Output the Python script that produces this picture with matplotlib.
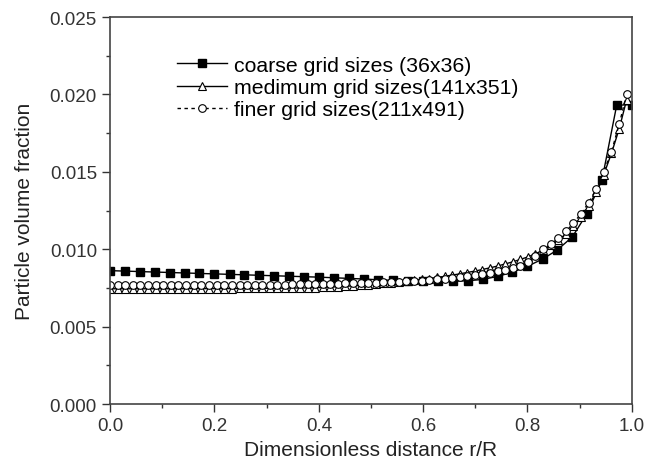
import matplotlib
matplotlib.use("Agg")
import matplotlib.pyplot as plt
from matplotlib.ticker import MultipleLocator, FormatStrFormatter

# coarse grid (36x36): 36 radial points
r_coarse = [0.000, 0.029, 0.057, 0.086, 0.114, 0.143, 0.171, 0.200, 0.229, 0.257,
            0.286, 0.314, 0.343, 0.371, 0.400, 0.429, 0.457, 0.486, 0.514, 0.543,
            0.571, 0.600, 0.629, 0.657, 0.686, 0.714, 0.743, 0.771, 0.800, 0.829,
            0.857, 0.886, 0.914, 0.943, 0.971, 1.000]
phi_coarse = [0.00862, 0.00859, 0.00856, 0.00853, 0.00850, 0.00847, 0.00844, 0.00841, 0.00838, 0.00835,
              0.00832, 0.00829, 0.00826, 0.00823, 0.00820, 0.00816, 0.00812, 0.00808, 0.00803, 0.00799,
              0.00795, 0.00793, 0.00792, 0.00793, 0.00797, 0.00805, 0.00825, 0.00852, 0.00890, 0.00937,
              0.00995, 0.01080, 0.01230, 0.01450, 0.01930, 0.01935]

# medium and finer grids, plotted at the same radial positions
r_fine = [0.000, 0.015, 0.029, 0.044, 0.058, 0.073, 0.087, 0.102, 0.117, 0.131,
          0.146, 0.160, 0.175, 0.189, 0.204, 0.218, 0.233, 0.248, 0.262, 0.277,
          0.291, 0.306, 0.320, 0.335, 0.349, 0.364, 0.379, 0.393, 0.408, 0.422,
          0.437, 0.451, 0.466, 0.481, 0.495, 0.510, 0.524, 0.539, 0.553, 0.568,
          0.582, 0.597, 0.612, 0.626, 0.641, 0.655, 0.670, 0.684, 0.699, 0.713,
          0.728, 0.743, 0.757, 0.772, 0.786, 0.801, 0.815, 0.830, 0.845, 0.859,
          0.874, 0.888, 0.903, 0.917, 0.932, 0.946, 0.961, 0.976, 0.990]

phi_medium = [0.00745, 0.00745, 0.00745, 0.00745, 0.00745, 0.00745, 0.00745, 0.00745, 0.00745, 0.00745,
              0.00746, 0.00746, 0.00746, 0.00746, 0.00746, 0.00746, 0.00746, 0.00747, 0.00747, 0.00747,
              0.00748, 0.00748, 0.00749, 0.00749, 0.00750, 0.00750, 0.00751, 0.00752, 0.00754, 0.00756,
              0.00758, 0.00761, 0.00764, 0.00767, 0.00771, 0.00775, 0.00779, 0.00783, 0.00788, 0.00793,
              0.00799, 0.00805, 0.00811, 0.00818, 0.00825, 0.00833, 0.00841, 0.00850, 0.00859, 0.00869,
              0.00880, 0.00892, 0.00905, 0.00919, 0.00934, 0.00951, 0.00970, 0.00995, 0.01025, 0.01060,
              0.01100, 0.01150, 0.01210, 0.01280, 0.01370, 0.01480, 0.01620, 0.01780, 0.01965]

phi_fine = [0.00770, 0.00770, 0.00770, 0.00770, 0.00770, 0.00770, 0.00770, 0.00770, 0.00770, 0.00770,
            0.00770, 0.00770, 0.00770, 0.00770, 0.00770, 0.00770, 0.00770, 0.00770, 0.00770, 0.00770,
            0.00771, 0.00771, 0.00772, 0.00772, 0.00773, 0.00773, 0.00774, 0.00775, 0.00776, 0.00777,
            0.00778, 0.00779, 0.00780, 0.00781, 0.00782, 0.00784, 0.00786, 0.00788, 0.00790, 0.00792,
            0.00795, 0.00798, 0.00801, 0.00805, 0.00809, 0.00814, 0.00819, 0.00825, 0.00832, 0.00840,
            0.00848, 0.00857, 0.00867, 0.00878, 0.00893, 0.00915, 0.00955, 0.01000, 0.01035, 0.01070,
            0.01115, 0.01170, 0.01230, 0.01300, 0.01390, 0.01500, 0.01630, 0.01810, 0.02000]

labels = ["coarse grid sizes (36x36)",
          "medimum grid sizes(141x351)",
          "finer grid sizes(211x491)"]

plt.rcParams['font.family'] = ['Liberation Sans', 'DejaVu Sans']

fig = plt.figure(figsize=(6.48, 4.64), dpi=100)
ax = fig.add_axes([0.170, 0.127, 0.805, 0.834])

ax.plot(r_coarse, phi_coarse, '-', color='black', lw=1.0, marker='s', ms=5.5,
        mfc='black', mec='black', label=labels[0])
ax.plot(r_fine, phi_medium, '-', color='black', lw=1.0, marker='^', ms=6,
        mfc='white', mec='black', mew=0.8, label=labels[1])
ax.plot(r_fine, phi_fine, '--', color='black', lw=1.0, marker='o', ms=5.5,
        mfc='white', mec='black', mew=0.8, label=labels[2], dashes=(2.5, 2.5))

ax.set_xlim(0, 1.0)
ax.set_ylim(0, 0.025)
ax.xaxis.set_major_locator(MultipleLocator(0.2))
ax.xaxis.set_minor_locator(MultipleLocator(0.1))
ax.yaxis.set_major_locator(MultipleLocator(0.005))
ax.yaxis.set_minor_locator(MultipleLocator(0.0025))
ax.xaxis.set_major_formatter(FormatStrFormatter('%.1f'))
ax.yaxis.set_major_formatter(FormatStrFormatter('%.3f'))
ax.tick_params(which='major', direction='out', length=6, width=1.0, labelsize=13.5, colors='#333333')
ax.tick_params(which='minor', direction='out', length=3, width=1.0, colors='#333333')
for s in ax.spines.values():
    s.set_color('#444444')
    s.set_linewidth(1.2)

ax.set_xlabel('Dimensionless distance r/R', fontsize=15, color='#222222')
ax.set_ylabel('Particle volume fraction', fontsize=15, color='#222222', labelpad=11)

ax.legend(loc='upper left', bbox_to_anchor=(0.128, 0.90), frameon=False,
          fontsize=15.3, handlelength=2.35, labelspacing=0.15, handletextpad=0.33,
          borderpad=0, borderaxespad=0)

fig.savefig('out.png', dpi=100)
